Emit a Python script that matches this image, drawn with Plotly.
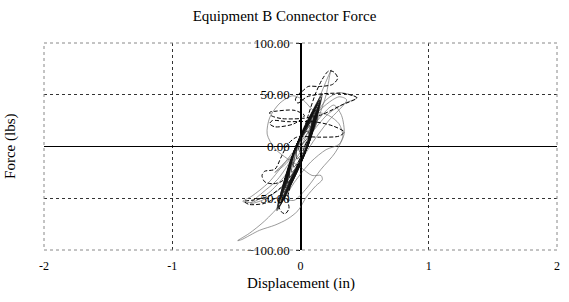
import plotly.graph_objects as go

# Thick solid series (dense central band)
disp_a = [0.00,
          0.118, 0.135, -0.043, -0.131,
          0.032, 0.104, -0.043, -0.099,
          0.071, 0.151, -0.051, -0.162,
          0.024, 0.119, -0.043, -0.115,
          0.058, 0.141, -0.063, -0.178,
          0.000, 0.088, -0.043, -0.084,
          0.068, 0.129, -0.054, -0.146,
          0.052, 0.160, -0.057, -0.184,
          0.010, 0.113, -0.049, -0.121,
          0.052, 0.135, -0.032, -0.109,
          0.039, 0.098, -0.066, -0.140,
          0.049, 0.148, -0.052, -0.162,
          0.025, 0.123, -0.033, -0.099,
          0.047, 0.104, -0.027, -0.068,
          0.047, 0.073, -0.051, -0.084,
          0.063, 0.119, -0.062, -0.153,
          0.044, 0.151, -0.033, -0.128,
          0.027, 0.091, -0.085, -0.171,
          0.024, 0.129, -0.032, -0.103,
          0.077, 0.166, -0.032, -0.140,
          0.030, 0.110, -0.048, -0.115,
          0.058, 0.141, -0.001, -0.053,
          0.061, 0.085, -0.016, -0.028,
          0.060, 0.057, -0.019, -0.006,
          0.010]
force_a = [0,
           20, 40, -2, -45,
           -8, 30, -2, -35,
           5, 45, -5, -55,
           -10, 35, -2, -40,
           1, 42, -9, -60,
           -17, 25, -2, -30,
           4, 38, -6, -50,
           -1, 48, -7, -62,
           -14, 33, -4, -42,
           -1, 40, 1, -38,
           -5, 28, -10, -48,
           -2, 44, -5, -55,
           -9, 36, 0, -35,
           -2, 30, 2, -25,
           -2, 20, -5, -30,
           2, 35, -8, -52,
           -3, 45, 0, -44,
           -9, 26, -16, -58,
           -10, 38, 1, -36,
           7, 50, 1, -48,
           -8, 32, -4, -40,
           1, 42, 11, -20,
           2, 24, 6, -12,
           2, 15, 5, -5,
           0]

# Dashed series
disp_b = [0.00, 0.06, 0.12, 0.17, 0.22, 0.26, 0.29, 0.25, 0.15, 0.06, 0.02, -0.02, -0.04, -0.02, 0.05,
          0.18, 0.35, 0.44, 0.32, 0.15, 0.00, -0.15, -0.23, -0.24, -0.20, -0.05, 0.03, -0.05, -0.20,
          -0.24, -0.22, -0.10, 0.10, 0.25, 0.34, 0.30, 0.15, -0.03, -0.10, -0.15, -0.20, -0.28, -0.30,
          -0.28, -0.22, -0.15, -0.10, -0.14, -0.25, -0.38, -0.44, -0.40, -0.28, -0.18, -0.17, -0.15,
          -0.12, -0.09, -0.10, -0.06, 0.00, 0.05]
force_b = [5, 30, 52, 65, 73, 72, 66, 60, 58, 58, 54, 50, 45, 42, 48,
           51, 51, 47, 40, 30, 27, 27, 30, 33, 34, 35, 30, 22, 19,
           22, 25, 24, 24, 20, 14, 10, 9, 9, 2, -10, -22, -24, -28,
           -34, -36, -34, -28, -38, -48, -52, -53, -56, -55, -50, -58, -63,
           -65, -60, -50, -30, -10, 5]

# Thin grey series (wide loops)
disp_c = [0.00, 0.10, 0.20, 0.30, 0.44, 0.35, 0.22, 0.10, 0.00, -0.12, -0.25, -0.38, -0.45, -0.38,
          -0.25, -0.10, 0.05, 0.18, 0.26, 0.32, 0.34, 0.30, 0.20, 0.08, -0.05, -0.15, -0.28, -0.40,
          -0.49, -0.46, -0.32, -0.20, -0.10, -0.02, 0.05, 0.12, 0.17, 0.16, 0.09, 0.00, -0.10, -0.20,
          -0.26, -0.24, -0.16, -0.06, 0.02, 0.10, 0.22, 0.30, 0.33, 0.27, 0.16, 0.05, -0.05, -0.12,
          -0.06, 0.04, 0.14, 0.20, 0.23, 0.24, 0.21, 0.14, 0.06, -0.06, -0.18, -0.30, -0.39, -0.30,
          -0.15, -0.02, 0.10, 0.22, 0.36, 0.30, 0.15, 0.02, -0.10, -0.20, -0.16, 0.00]
force_c = [0, 25, 45, 52, 47, 42, 32, 15, -5, -28, -45, -54, -53, -48,
           -35, -12, 12, 32, 40, 30, 12, 2, -3, -15, -35, -55, -72, -84,
           -91, -90, -81, -76, -70, -62, -48, -38, -32, -28, -28, -20, -12, -2,
           12, 28, 42, 49, 45, 35, 30, 22, 10, -6, -22, -40, -52, -50,
           -30, 0, 28, 50, 70, 74, 66, 45, 20, -10, -32, -45, -55, -52,
           -40, -18, 5, 25, 45, 48, 35, 10, -15, -25, -20, 0]

x_ticks = [-2, -1, 0, 1, 2]
y_ticks = [-100, -50, 0, 50, 100]

font = "Liberation Serif, Times New Roman, serif"

fig = go.Figure()
fig.add_trace(go.Scatter(x=disp_c, y=force_c, mode="lines", line_shape="spline",
                         line=dict(color="#707070", width=0.7, smoothing=0.8), showlegend=False))
fig.add_trace(go.Scatter(x=disp_b, y=force_b, mode="lines", line_shape="spline",
                         line=dict(color="black", width=1.0, dash="4px,2px", smoothing=0.8), showlegend=False))
fig.add_trace(go.Scatter(x=disp_a, y=force_a, mode="lines", line_shape="spline",
                         line=dict(color="#111111", width=0.7, smoothing=0.8), showlegend=False))

fig.update_layout(
    width=569, height=302,
    margin=dict(l=44, r=12, t=43, b=52),
    paper_bgcolor="white", plot_bgcolor="white",
    font=dict(family=font, color="black", size=12),
    title=dict(text="Equipment B Connector Force", x=0.5, xanchor="center",
               y=0.948, yanchor="middle", font=dict(family=font, size=15)),
    xaxis=dict(range=[-2, 2], tickvals=x_ticks, ticktext=[str(v) for v in x_ticks],
               showgrid=True, gridcolor="#333333", griddash="dot", gridwidth=1,
               zeroline=True, zerolinecolor="black", zerolinewidth=1.3,
               showline=False, ticks="", ticklabelstandoff=7, automargin=False),
    yaxis=dict(range=[-100, 100], tickvals=y_ticks, tickformat=".2f",
               anchor="free", position=0.5, side="left", automargin=False,
               showgrid=True, gridcolor="#333333", griddash="dot", gridwidth=1,
               zeroline=True, zerolinecolor="black", zerolinewidth=1.3,
               showline=True, linecolor="black", linewidth=1.3,
               ticks="outside", ticklen=4, tickcolor="black", ticklabelstandoff=4,
               tickfont=dict(size=13)),
    shapes=[dict(type="rect", xref="paper", yref="paper", x0=0, x1=1, y0=0, y1=1,
                 line=dict(color="#888888", width=1, dash="dot"), layer="above")],
    annotations=[
        dict(text="Force (lbs)", xref="paper", yref="paper", x=-0.045, y=0.5,
             textangle=-90, showarrow=False, xanchor="right", yanchor="middle",
             font=dict(family=font, size=15)),
        dict(text="Displacement (in)", xref="paper", yref="paper", x=0.5, y=-0.164,
             showarrow=False, xanchor="center", yanchor="middle",
             font=dict(family=font, size=15)),
    ],
)

fig.write_html("out.html", config={"displayModeBar": False},
               post_script="document.body.style.margin='0px';")
